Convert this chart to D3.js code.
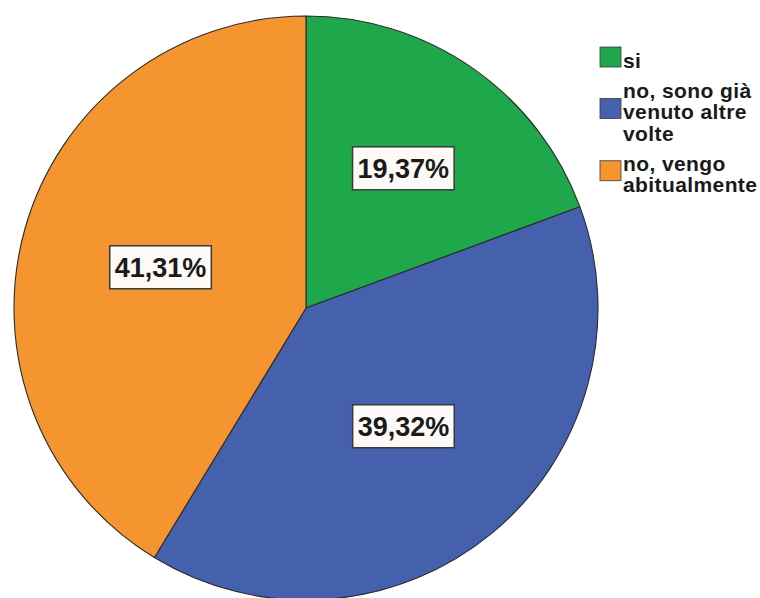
<!DOCTYPE html>
<html>
<head>
<meta charset="utf-8">
<script src="https://cdn.jsdelivr.net/npm/d3@7"></script>
<style>
  html, body { margin: 0; padding: 0; background: #ffffff; }
  svg { display: block; }
</style>
</head>
<body>
<svg id="chart" width="760" height="598"></svg>
<script>
// Response categories (legend order) and their percentages
const categories = ["si", "no, sono già venuto altre volte", "no, vengo abitualmente"];
const legendLines = [["si"], ["no, sono già", "venuto altre", "volte"], ["no, vengo", "abitualmente"]];
const values = [19.37, 39.32, 41.31];
const valueLabels = ["19,37%", "39,32%", "41,31%"];
const colors = ["#1fa84b", "#4560ad", "#f4952f"];

const svg = d3.select("#chart");
const cx = 306, cy = 308, radius = 292;

const color = d3.scaleOrdinal().domain(categories).range(colors);

const data = categories.map((c, i) => ({ category: c, value: values[i], label: valueLabels[i] }));

const pie = d3.pie().sort(null).value(d => d.value);
const arcs = pie(data);

const arc = d3.arc().innerRadius(0).outerRadius(radius);

// Label distance: halfway between a fixed ring and the sector's area centroid
function labelPos(d) {
  const theta = d.endAngle - d.startAngle;
  const centroidDist = (2 / 3) * radius * Math.sin(theta / 2) / (theta / 2);
  const dist = 0.5 * (0.54 * radius + centroidDist);
  const mid = (d.startAngle + d.endAngle) / 2;
  return [dist * Math.sin(mid), -dist * Math.cos(mid)];
}

const g = svg.append("g").attr("transform", `translate(${cx},${cy})`);

g.selectAll("path.slice")
  .data(arcs)
  .join("path")
  .attr("class", "slice")
  .attr("d", arc)
  .attr("fill", d => color(d.data.category))
  .attr("stroke", "#2b2b2b")
  .attr("stroke-width", 1.1)
  .attr("stroke-linejoin", "round");

// Percentage labels in white boxes
const labels = g.selectAll("g.lbl")
  .data(arcs)
  .join("g")
  .attr("class", "lbl")
  .attr("transform", d => `translate(${labelPos(d)})`);

labels.append("rect");
labels.append("text")
  .attr("text-anchor", "middle")
  .attr("dy", "0.36em")
  .attr("font-family", "'Liberation Sans', Arial, sans-serif")
  .attr("font-weight", "bold")
  .attr("font-size", 27)
  .attr("fill", "#1a1a1a")
  .text(d => d.data.label);

labels.each(function () {
  const gg = d3.select(this);
  const bb = gg.select("text").node().getBBox();
  const padX = 5, h = 43;
  gg.select("rect")
    .attr("x", bb.x - padX)
    .attr("y", -h / 2)
    .attr("width", bb.width + padX * 2)
    .attr("height", h)
    .attr("fill", "#fdf9f7")
    .attr("stroke", "#3a3a3a")
    .attr("stroke-width", 1.5);
});

// Legend
const legend = svg.append("g").attr("class", "legend");
const lineH = 21.5, itemGap = 8.5;
let baseline = 67.5;
legendLines.forEach((lines, i) => {
  const first = baseline;
  const last = baseline + (lines.length - 1) * lineH;
  const mid = (first + last) / 2 - 10.5;
  legend.append("rect")
    .attr("x", 600)
    .attr("y", mid - 10)
    .attr("width", 21)
    .attr("height", 20)
    .attr("fill", color(categories[i]))
    .attr("stroke", "#3a3a3a")
    .attr("stroke-width", 0.8);
  const t = legend.append("text")
    .attr("font-family", "'Liberation Sans', Arial, sans-serif")
    .attr("font-weight", "bold")
    .attr("font-size", 21)
    .attr("letter-spacing", 0.4)
    .attr("fill", "#1a1a1a");
  lines.forEach((ln, j) => {
    t.append("tspan")
      .attr("x", 623)
      .attr("y", first + j * lineH)
      .text(ln);
  });
  baseline = last + lineH + itemGap;
});
</script>
</body>
</html>
